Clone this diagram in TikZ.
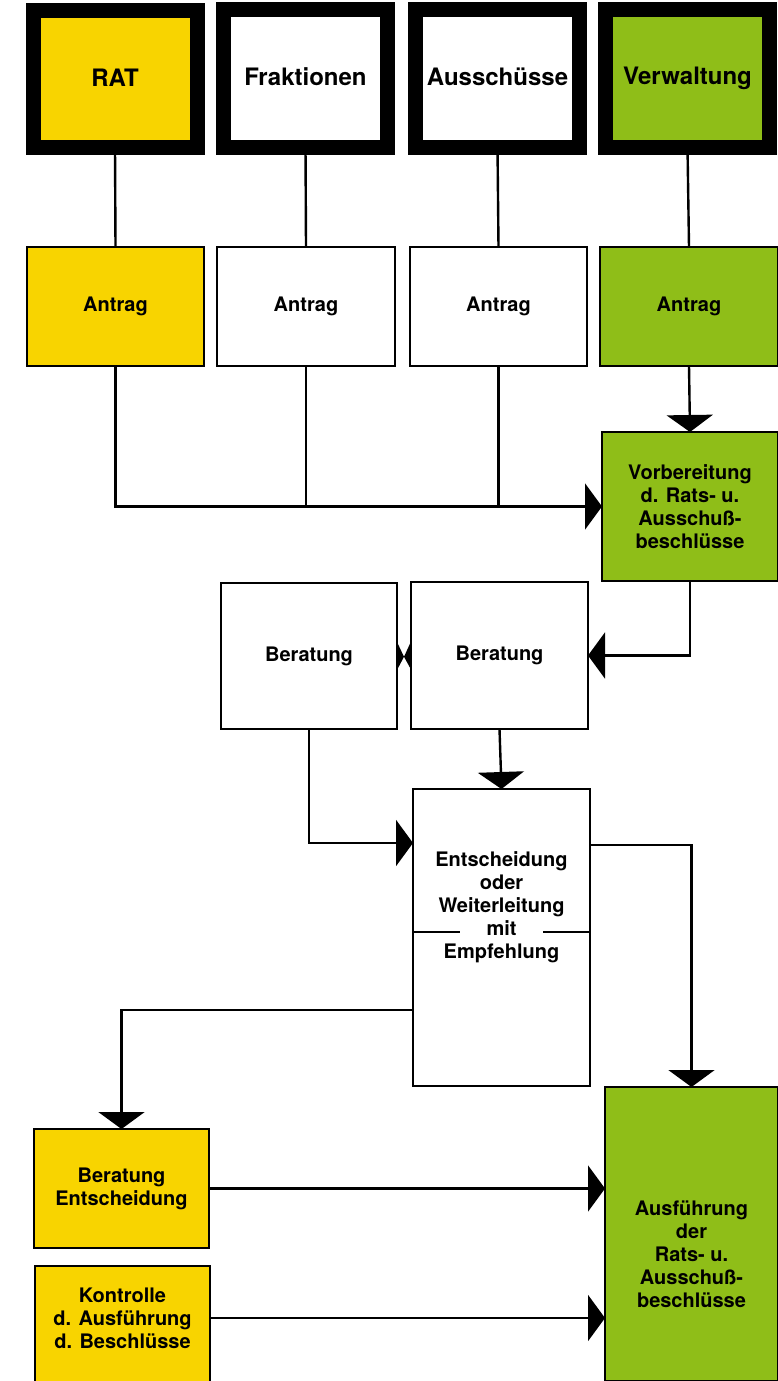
\documentclass[tikz,border=0pt]{standalone}
\usepackage{fontspec}
\setmainfont{TeX Gyre Heros}
\usetikzlibrary{arrows.meta,calc}
\definecolor{ratyellow}{RGB}{248,212,0}
\definecolor{verwgreen}{RGB}{143,190,24}
\begin{document}
\begin{tikzpicture}[x=1pt,y=-1pt,
  topbox/.style={draw=black, line width=15pt, inner sep=0pt, outer sep=0pt,
    minimum width=164pt, minimum height=137pt,
    font=\fontsize{24}{28}\selectfont\bfseries},
  box/.style={draw=black, line width=2.2pt, inner sep=0pt, outer sep=0pt,
    align=center, font=\fontsize{20}{23}\selectfont\bfseries},
  txt/.style={inner sep=0pt, align=center, font=\fontsize{20}{23}\selectfont\bfseries},
  conn/.style={line width=2.4pt},
  arr/.style={conn, -{Triangle[width=46pt,length=17pt]}}]
\useasboundingbox (0,0) rectangle (778,1381);
\fill[white] (0,0) rectangle (778,1381);

% top row
\node[topbox, fill=ratyellow] (rat)  at (115,79)   {\raisebox{3pt}{RAT}};
\node[topbox, fill=white]     (frak) at (305.5,78.5) {\raisebox{3pt}{Fraktionen}};
\node[topbox, fill=white]     (aus)  at (497.5,78.5) {\raisebox{3pt}{Ausschüsse}};
\node[topbox, fill=verwgreen] (verw) at (687.5,78.5) {Verwaltung};

% Antrag row
\node[box, fill=ratyellow, minimum width=177pt, minimum height=119pt] (a1) at (115.5,306.5) {Antrag};
\node[box, fill=white,     minimum width=178pt, minimum height=119pt] (a2) at (306,306.5)   {Antrag};
\node[box, fill=white,     minimum width=177pt, minimum height=119pt] (a3) at (498.5,306.5) {Antrag};
\node[box, fill=verwgreen, minimum width=178pt, minimum height=119pt] (a4) at (689,306.5)   {Antrag};

% Vorbereitung
\node[box, fill=verwgreen, minimum width=176pt, minimum height=149pt] (vorb) at (690,506.5)
  {Vorbereitung\\d. Rats- u.\\Ausschuß-\\beschlüsse};

% Beratung
\node[box, fill=white, minimum width=176pt, minimum height=146pt] (b1) at (309,656) {Beratung};
\node[box, fill=white, minimum width=177pt, minimum height=147pt] (b2) at (499.5,655.5) {Beratung};

% Entscheidung
\node[box, fill=white, minimum width=177pt, minimum height=297pt] (ent) at (501.5,937.5) {};
\node[txt] (entT) at (501.5,907.5) {Entscheidung\\oder\\Weiterleitung\\mit\\Empfehlung};
\draw[line width=2pt] ([yshift=-143pt]ent.north west) -- ++(47,0);
\draw[line width=2pt] ([yshift=-143pt]ent.north east) -- ++(-47,0);

% bottom left
\node[box, fill=ratyellow, minimum width=175pt, minimum height=119pt] (bent) at (121.5,1188.5)
  {Beratung\\Entscheidung};
\node[box, fill=ratyellow, minimum width=175pt, minimum height=130pt] (kont) at (122.5,1331) {};
\node[txt] (kontT) at (122.5,1318) {Kontrolle\\d. Ausführung\\d. Beschlüsse};

% Ausführung
\node[box, fill=verwgreen, minimum width=173pt, minimum height=294pt] (ausf) at (691.5,1234) {};
\node[txt] (ausfT) at (691.5,1254) {Ausführung\\der\\Rats- u.\\Ausschuß-\\beschlüsse};

% connectors
\draw[conn] (rat.south) -- (a1.north);
\draw[conn] (frak.south) -- (a2.north);
\draw[conn] (aus.south) -- (a3.north);
\draw[conn] (verw.south) -- (a4.north);

\draw[arr] (a1.south) |- (vorb.west);
\draw[conn] (a2.south) -- (a2.south |- vorb.west);
\draw[conn] (a3.south) -- (a3.south |- vorb.west);
\draw[arr] (a4.south) -- (vorb.north);

\draw[arr] (vorb.south) |- (b2.east);

% bow tie between the two Beratung boxes
\coordinate (bm) at ($(b1.east)!0.5!(b2.west)$);
\fill ([yshift=14pt]b1.east) -- ([yshift=-1pt]bm) -- ([yshift=-14pt]b1.east) -- cycle;
\fill ([yshift=14pt]b2.west) -- ([yshift=-1pt]bm) -- ([yshift=-14pt]b2.west) -- cycle;

\draw[arr] (b1.south) |- ([yshift=-54pt]ent.north west);
\draw[arr] (b2.south) -- (ent.north);

\draw[arr] ([yshift=-56pt]ent.north east) -| (ausf.north);
\draw[arr] ([yshift=-221pt]ent.north west) -| (bent.north);

\draw[arr] (bent.east) -- (ausf.west |- bent.east);
\draw[arr] (kont.east |- kontT) -- (ausf.west |- kontT);
\end{tikzpicture}
\end{document}
